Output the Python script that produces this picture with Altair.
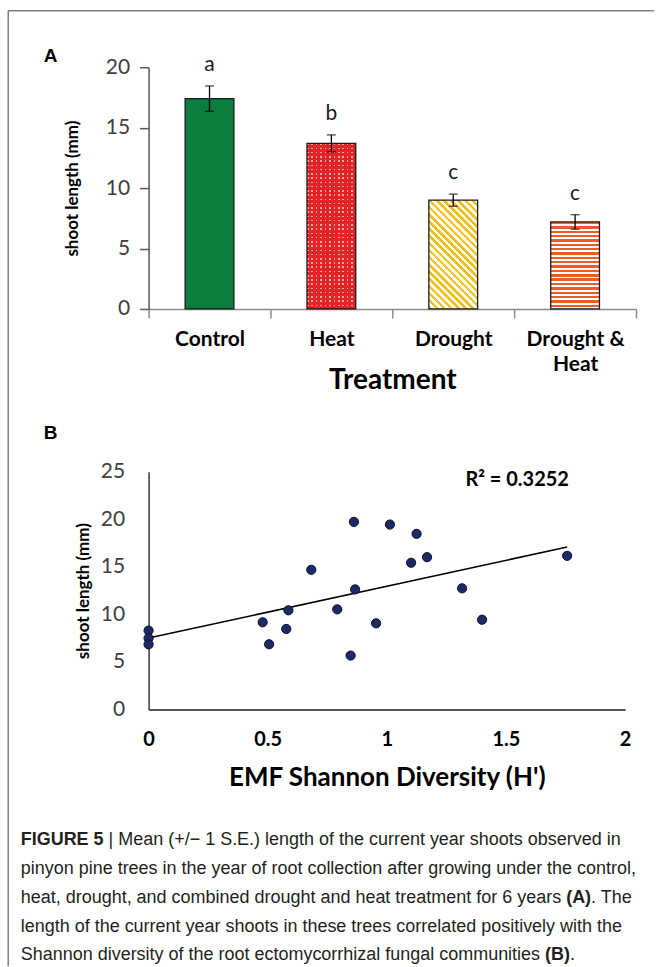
import altair as alt
import pandas as pd

# ---------------- data: panel A ----------------
treatments = ["Control", "Heat", "Drought", "Drought & Heat"]
shoot_mean = [17.4, 13.7, 9.0, 7.2]
shoot_se = [1.05, 0.7, 0.5, 0.6]
sig_letters = ["a", "b", "c", "c"]

# ---------------- data: panel B ----------------
emf_diversity = [0.0, 0.0, 0.0, 0.479, 0.506, 0.578, 0.587, 0.683, 0.792, 0.848,
                 0.862, 0.867, 0.955, 1.013, 1.102, 1.125, 1.169, 1.316, 1.40, 1.757]
shoot_length = [8.3, 7.5, 6.85, 9.17, 6.86, 8.47, 10.43, 14.69, 10.53, 5.67,
                19.73, 12.63, 9.06, 19.45, 15.43, 18.47, 16.02, 12.74, 9.44, 16.16]
r2_text = "R\u00b2 = 0.3252"

caption_lines = [
    [("FIGURE 5", True), (" | Mean (+/\u2212 1 S.E.) length of the current year shoots observed in", False)],
    [("pinyon pine trees in the year of root collection after growing under the control,", False)],
    [("heat, drought, and combined drought and heat treatment for 6 years ", False), ("(A)", True), (". The", False)],
    [("length of the current year shoots in these trees correlated positively with the", False)],
    [("Shannon diversity of the root ectomycorrhizal fungal communities ", False), ("(B)", True), (".", False)],
]

# ---------------- layout constants ----------------
A_W, A_H = 488, 242
B_W, B_H = 477, 238
A_LEFT, A_TOP = 148, 66
B_TOP = 471
LABEL_FONT = "Lato"

# Arial metrics (Liberation Sans is metric compatible)
ARIAL = {' ': 278, ',': 278, '.': 278, '(': 333, ')': 333, '+': 584, '/': 278, '\u2212': 584, '|': 260,
         '1': 556, '5': 556, '6': 556, "'": 191,
         'A': 667, 'B': 667, 'E': 667, 'F': 611, 'G': 778, 'I': 278, 'M': 833, 'R': 722, 'S': 667,
         'T': 611, 'U': 722,
         'a': 556, 'b': 556, 'c': 500, 'd': 556, 'e': 556, 'f': 278, 'g': 556, 'h': 556, 'i': 222,
         'j': 222, 'k': 500, 'l': 222, 'm': 833, 'n': 556, 'o': 556, 'p': 556, 'q': 556, 'r': 333,
         's': 500, 't': 278, 'u': 556, 'v': 500, 'w': 722, 'x': 500, 'y': 500, 'z': 500}
ARIAL_B = {' ': 278, '.': 278, '(': 333, ')': 333, '5': 556, 'A': 722, 'B': 722, 'E': 667, 'F': 611,
           'G': 778, 'I': 278, 'R': 722, 'U': 722}


def text_em(s, bold=False):
    tab = ARIAL_B if bold else ARIAL
    return sum(tab.get(ch, ARIAL.get(ch, 556)) for ch in s) / 1000.0


CAP_FONT = "Liberation Sans"
CAP_X0 = 20
CAP_Y = [840, 869, 898, 927, 955]
CAP_SIZE = (636 - CAP_X0) / text_em(caption_lines[1][0][0])

dummy = pd.DataFrame({"k": [0]})


def stripe_gradient(c1, c2, n, frac, x1, y1, x2, y2):
    stops = []
    for i in range(n):
        a = round(i / n, 5)
        b = round((i + frac) / n, 5)
        e = round(min((i + 1) / n, 1.0), 5)
        stops += [alt.GradientStop(color=c1, offset=a), alt.GradientStop(color=c1, offset=b),
                  alt.GradientStop(color=c2, offset=b), alt.GradientStop(color=c2, offset=e)]
    return alt.LinearGradient(gradient="linear", stops=stops, x1=x1, y1=y1, x2=x2, y2=y2)


# ---------------- panel A ----------------
dfA = pd.DataFrame({"treatment": treatments, "mean": shoot_mean, "se": shoot_se, "letter": sig_letters})
dfA["lo"] = dfA["mean"] - dfA["se"]
dfA["hi"] = dfA["mean"] + dfA["se"]

px_unit_A = A_H / 20.0
bar_w = 0.4 * A_W / len(treatments)

axisAx = alt.Axis(
    title="Treatment", labelAngle=0, labelFont=LABEL_FONT, labelFontSize=21, labelFontWeight="bold",
    labelColor="black", labelPadding=11, labelLineHeight=25,
    labelExpr="datum.value == 'Drought & Heat' ? ['Drought &', 'Heat'] : datum.value",
    tickBand="extent", tickColor="#8c8c8c", tickSize=9, tickWidth=1.5,
    domainColor="#8c8c8c", domainWidth=1.5,
    titleFont=LABEL_FONT, titleFontSize=28, titleFontWeight="bold", titleColor="black",
    titleY=72, titleBaseline="middle")
xA = alt.X("treatment:N", scale=alt.Scale(domain=treatments, paddingInner=0, paddingOuter=0), axis=axisAx)

axisAy = alt.Axis(
    title="shoot length (mm)", values=[0, 5, 10, 15, 20], grid=False,
    labelFont=LABEL_FONT, labelFontSize=21, labelColor="#404040", labelPadding=10,
    tickSize=9, tickColor="#595959", tickWidth=1.5, domainColor="#595959", domainWidth=1.5,
    titleFont=LABEL_FONT, titleFontSize=17, titleFontWeight="bold", titleColor="black",
    titleX=-76, titleY=A_H / 2, titleBaseline="middle")


def yA(field):
    return alt.Y(field, type="quantitative", scale=alt.Scale(domain=[0, 20], nice=False), axis=axisAy)


def bar_layer(name, fill):
    return alt.Chart(dfA).transform_filter(alt.datum.treatment == name).mark_bar(
        width=alt.RelativeBandSize(0.4), fill=fill, strokeWidth=0).encode(x=xA, y=yA("mean"))


RED = "#e32326"
h_heat = shoot_mean[1] * px_unit_A
h_dr = shoot_mean[2] * px_unit_A
h_dh = shoot_mean[3] * px_unit_A

heat_rows = stripe_gradient("#f4a9a9", RED, int(round(h_heat / 4.3)), 0.36, 0, 0, 0, 1)
heat_cols = stripe_gradient("rgba(227,35,38,0)", RED, int(round(bar_w / 4.3)), 0.36, 0, 0, 1, 0)
r = h_dr / bar_w
s = (1 + r) / (1 + r * r)
n_diag = int(round((bar_w + h_dr) / 2 ** 0.5 / 5.0))
drought_grad = stripe_gradient("#f2c21c", "#ffffff", n_diag, 0.5, 0, 1, s, 1 - s * r)
dh_grad = stripe_gradient("#ef5b25", "#ffffff", int(round(h_dh / 4.4)), 0.55, 0, 0, 0, 1)

bars = [
    bar_layer("Control", "#0b7d3e"),
    bar_layer("Heat", RED),
    bar_layer("Heat", heat_rows),
    bar_layer("Heat", heat_cols),
    bar_layer("Drought", drought_grad),
    bar_layer("Drought & Heat", dh_grad),
]
outline = alt.Chart(dfA).mark_bar(width=alt.RelativeBandSize(0.4), fillOpacity=0, stroke="#1a1a1a",
                                  strokeWidth=1.3).encode(x=xA, y=yA("mean"))
err_rule = alt.Chart(dfA).mark_rule(color="black", strokeWidth=1.3).encode(x=xA, y=yA("lo"), y2="hi:Q")
cap_lo = alt.Chart(dfA).mark_tick(color="black", thickness=1.3, size=9).encode(x=xA, y=yA("lo"))
cap_hi = alt.Chart(dfA).mark_tick(color="black", thickness=1.3, size=9).encode(x=xA, y=yA("hi"))
letters = alt.Chart(dfA).mark_text(font=LABEL_FONT, fontSize=21, color="#1a1a1a", baseline="bottom",
                                   dy=-11).encode(x=xA, y=yA("hi"), text="letter:N")

panel_A = alt.Chart(dummy).mark_text(font="Liberation Sans", fontSize=19, fontWeight="bold",
                                     align="center", baseline="middle", color="black").encode(
    x=alt.value(50 - A_LEFT), y=alt.value(55 - A_TOP), text=alt.value("A"))
frame_v = alt.Chart(dummy).mark_rule(color="#808080", strokeWidth=1.5).encode(
    x=alt.value(7.5 - A_LEFT), y=alt.value(9.5 - A_TOP), y2=alt.value(966 - A_TOP))
frame_h = alt.Chart(dummy).mark_rule(color="#808080", strokeWidth=1.5).encode(
    x=alt.value(7.5 - A_LEFT), x2=alt.value(654 - A_LEFT), y=alt.value(9.5 - A_TOP))

chartA = alt.layer(*bars, outline, err_rule, cap_lo, cap_hi, letters, panel_A, frame_v, frame_h).properties(
    width=A_W, height=A_H)

# ---------------- panel B ----------------
dfB = pd.DataFrame({"diversity": emf_diversity, "shoot": shoot_length})
axisBx = alt.Axis(
    values=[0, 0.5, 1, 1.5, 2], format="~g", ticks=False, grid=False, domainColor="#1a1a1a",
    domainWidth=1.3, labelFlush=False, labelFont=LABEL_FONT, labelFontSize=20, labelFontWeight="bold",
    labelColor="black", labelPadding=20, title="EMF Shannon Diversity (H')", titleFont=LABEL_FONT,
    titleFontSize=26, titleFontWeight="bold", titleColor="black", titleY=68, titleBaseline="middle")
axisBy = alt.Axis(
    values=[0, 5, 10, 15, 20, 25], ticks=False, grid=False, domainColor="#1a1a1a", domainWidth=1.3,
    labelFont=LABEL_FONT, labelFontSize=21, labelColor="#404040", labelPadding=24,
    title="shoot length (mm)", titleFont=LABEL_FONT, titleFontSize=17, titleFontWeight="bold",
    titleColor="black", titleX=-65, titleY=B_H / 2, titleBaseline="middle")
xB = alt.X("diversity:Q", scale=alt.Scale(domain=[0, 2], nice=False), axis=axisBx)
yB = alt.Y("shoot:Q", scale=alt.Scale(domain=[0, 25], nice=False), axis=axisBy)

points = alt.Chart(dfB).mark_circle(size=85, fill="#1c2a68", stroke="#0b0f2e", strokeWidth=1,
                                    opacity=1).encode(x=xB, y=yB)
trend = alt.Chart(dfB).transform_regression("diversity", "shoot").mark_line(
    color="black", strokeWidth=1.6).encode(x=xB, y=yB)
r2 = alt.Chart(dummy).mark_text(font=LABEL_FONT, fontSize=20, fontWeight="bold", color="black",
                                align="center", baseline="middle").encode(
    x=alt.value(517 - A_LEFT), y=alt.value(479 - B_TOP), text=alt.value(r2_text))
panel_B = alt.Chart(dummy).mark_text(font="Liberation Sans", fontSize=19, fontWeight="bold",
                                     align="center", baseline="middle", color="black").encode(
    x=alt.value(50 - A_LEFT), y=alt.value(432 - B_TOP), text=alt.value("B"))

caption_layers = []
for line, ypos in zip(caption_lines, CAP_Y):
    cursor = CAP_X0
    for seg, bold in line:
        lead = len(seg) - len(seg.lstrip(" "))
        cursor += text_em(" " * lead, bold) * CAP_SIZE
        txt = seg.strip(" ")
        caption_layers.append(
            alt.Chart(dummy).mark_text(font=CAP_FONT, fontSize=CAP_SIZE, fontWeight="bold" if bold else "normal",
                                       align="left", baseline="middle", color="#231f20").encode(
                x=alt.value(cursor - A_LEFT), y=alt.value(ypos - B_TOP), text=alt.value(txt)))
        cursor += text_em(seg.lstrip(" "), bold) * CAP_SIZE

chartB = alt.layer(trend, points, r2, panel_B, *caption_layers).properties(width=B_W, height=B_H)

chart = alt.vconcat(chartA, chartB, spacing=B_TOP - (A_TOP + A_H), bounds="flush").properties(
    padding={"left": 6.75, "top": 8.75, "right": 0, "bottom": 0}
).configure_view(stroke="transparent")

chart.save("out.html", embed_options={"renderer": "svg", "actions": False})
